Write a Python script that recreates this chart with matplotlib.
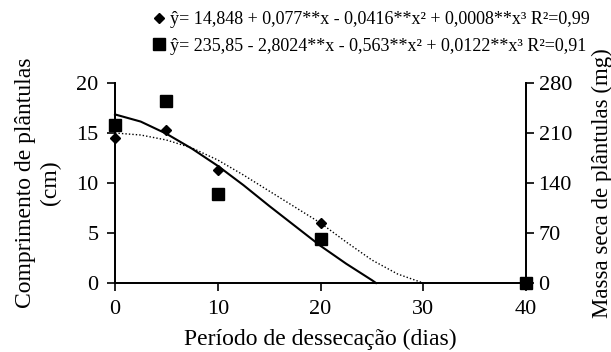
import matplotlib
matplotlib.use("Agg")
import matplotlib.pyplot as plt
from matplotlib.lines import Line2D

plt.rcParams['font.family'] = ['Liberation Serif', 'DejaVu Serif']

# Observed data
dias = [0, 5, 10, 20, 40]
comprimento = [14.5, 15.3, 11.3, 6.0, 0.0]      # cm (left axis)
massa = [221, 255, 125, 62, 0]                 # mg (right axis)

# Fitted curves
fit_comp_x = [0, 2.5, 5, 7.5, 10, 12.5, 15, 17.5, 20, 22.5, 25, 27.5, 30]
fit_comp_y = [15.0, 14.8, 14.3, 13.5, 12.3, 10.8, 9.2, 7.6, 6.0, 4.1, 2.3, 0.9, 0.0]
fit_massa_x = [0, 2.5, 5, 7.5, 10, 12.5, 15, 17.5, 20, 22.5, 25, 25.4]
fit_massa_y = [236, 226, 209, 188, 164, 137, 108, 80, 52, 27, 4, 0]

eq1 = "ŷ= 14,848 + 0,077**x - 0,0416**x² + 0,0008**x³ R²=0,99"
eq2 = "ŷ= 235,85 - 2,8024**x - 0,563**x² + 0,0122**x³ R²=0,91"

xticks = [0, 10, 20, 30, 40]
yticks_left = [0, 5, 10, 15, 20]
yticks_right = [0, 70, 140, 210, 280]

fig = plt.figure(figsize=(6.11, 3.52), dpi=100)
ax = fig.add_axes([115/611, 1-283/352, (526-115)/611, 200/352])
ax2 = ax.twinx()

ax.plot(fit_comp_x, fit_comp_y, color='black', linestyle=(0, (1, 1.5)), linewidth=1.0, clip_on=False)
ax.plot(dias, comprimento, linestyle='none', marker='D', markersize=5, color='black', clip_on=False, zorder=5)
ax2.plot(fit_massa_x, fit_massa_y, color='black', linewidth=1.5, clip_on=False)
ax2.plot(dias, massa, linestyle='none', marker='s', markersize=8, color='black', clip_on=False, zorder=5)

ax.set_xlim(0, 40)
ax.set_ylim(0, 20)
ax2.set_ylim(0, 280)
ax.set_xticks(xticks)
ax.set_yticks(yticks_left)
ax2.set_yticks(yticks_right)

for a in (ax, ax2):
    a.spines['top'].set_visible(False)
    for s in a.spines.values():
        s.set_linewidth(1.3)
    a.tick_params(direction='out', length=6, width=1.2, labelsize=16, pad=3)
ax.tick_params(axis='x', pad=6)
ax.tick_params(axis='y', pad=6)

ax.set_xlabel("Período de dessecação (dias)", fontsize=17, labelpad=7)
ax.set_ylabel("Comprimento de plântulas\n(cm)", fontsize=17, labelpad=11, linespacing=1.25)
ax2.set_ylabel("Massa seca de plântulas (mg)", fontsize=16.5, labelpad=14)

h1 = Line2D([], [], linestyle='none', marker='D', markersize=5, color='black')
h2 = Line2D([], [], linestyle='none', marker='s', markersize=8, color='black')
fig.legend([h1, h2], [eq1, eq2], loc='upper left', bbox_to_anchor=(143/611, 1.0),
           frameon=False, fontsize=13, handlelength=0.6, handletextpad=0.3,
           labelspacing=0.55, borderaxespad=0.2)

fig.savefig("out.png", dpi=100)
